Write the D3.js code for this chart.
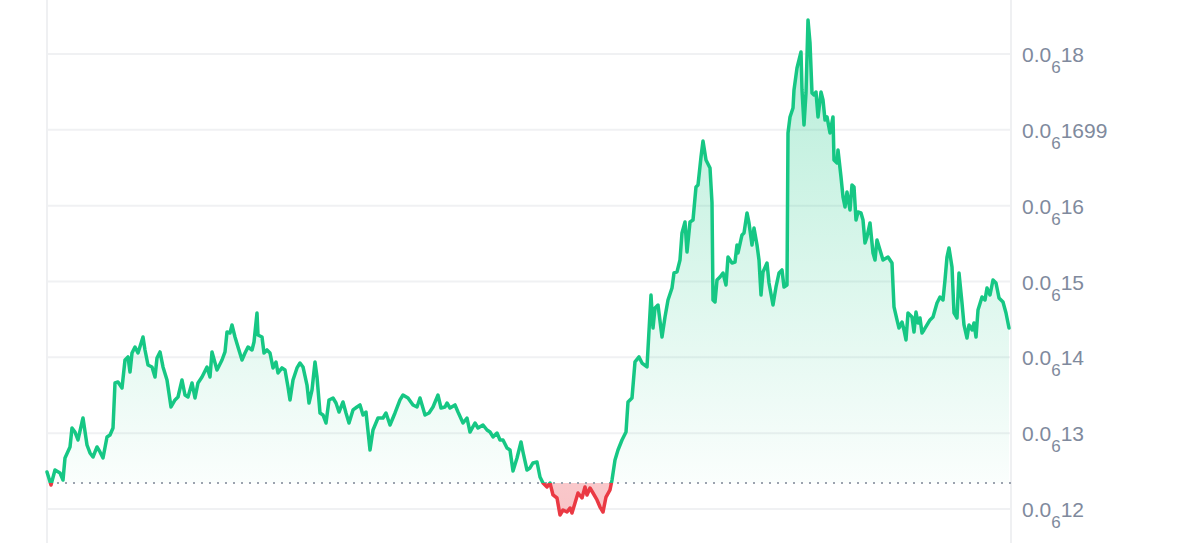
<!DOCTYPE html>
<html><head><meta charset="utf-8">
<script src="https://cdn.jsdelivr.net/npm/d3@7"></script>
<style>html,body{margin:0;padding:0;background:#fff;overflow:hidden}</style>
</head><body><svg id="c" width="1200" height="543"></svg>
<script>
// time in minutes over the day
const minutes = [0,6,12,19.5,24,27,34.5,37.5,42,46.5,52.5,54,60,64.5,69,75,79.5,84,90,94.5,99,102,106.5,112.5,117,121.5,124.5,127.5,132,136.5,144,147,151.5,157.5,162,165,169.5,174,180,186,192,196.5,202.5,207,211.5,217.5,222,226.5,232.5,240,244.5,247.5,255,262.5,267,270,274.5,277.5,282,286.5,292.5,297,301.5,307.5,310.5,315,316.5,322.5,325.5,330,334.5,339,343.5,346.5,352.5,357,361.5,364.5,369,375,379.5,384,390,393,397.5,402,405,409.5,414,418.5,423,429,433.5,438,444,448.5,453,459,465,469.5,474,478.5,484.5,489,496.5,504,508.5,514.5,522,529.5,534,541.5,549,555,559.5,567,573,579,586.5,591,597,600,604.5,612,616.5,624,630,634.5,642,646.5,654,660,664.5,669,675,679.5,684,690,694.5,699,705,711,714,720,724.5,729,735,739.5,744,750,754.5,759,765,769.5,774,780,784.5,787.5,792,796.5,802.5,807,810,814.5,819,825,829.5,834,838.5,844.5,847.5,852,856.5,862.5,868.5,871.5,877.5,882,888,892.5,900,906,909,912,916.5,922.5,927,931.5,937.5,940.5,945,949.5,952.5,957,960,964.5,969,973.5,976.5,981,984,988.5,994.5,997.5,999,1002,1005,1009.5,1014,1018.5,1021.5,1027.5,1032,1035,1036.5,1042.5,1045.5,1050,1053,1057.5,1060.5,1065,1068,1071,1074,1080,1083,1089,1093.5,1098,1102.5,1105.5,1110,1111.5,1114.5,1119,1120.5,1125,1128,1131,1132.5,1135.5,1138.5,1141.5,1144.5,1147.5,1150.5,1153.5,1156.5,1161,1164,1167,1170,1174.5,1179,1180.5,1185,1186.5,1191,1194,1197,1200,1204.5,1207.5,1210.5,1213.5,1216.5,1221,1224,1227,1230,1234.5,1239,1242,1245,1249.5,1254,1261.5,1267.5,1270.5,1275,1278,1282.5,1285.5,1288.5,1291.5,1297.5,1300.5,1303.5,1306.5,1309.5,1312.5,1315.5,1320,1324.5,1329,1335,1339.5,1344,1347,1350,1353,1357.5,1360.5,1365,1368,1372.5,1375.5,1380,1383,1387.5,1390.5,1393.5,1396.5,1402.5,1407,1410,1414.5,1419,1423.5,1428,1434,1438.5,1443];
// price in units of 1e-8 (i.e. 12.34 -> 0.0₆1234)
const prices = [12.488,12.317,12.514,12.475,12.382,12.673,12.818,13.068,13.015,12.910,13.147,13.200,12.844,12.739,12.686,12.818,12.752,12.673,12.950,12.976,13.068,13.662,13.675,13.596,13.965,14.005,13.807,14.057,14.136,14.057,14.268,14.097,13.899,13.873,13.741,13.991,14.071,13.873,13.701,13.345,13.438,13.477,13.701,13.503,13.477,13.662,13.464,13.662,13.741,13.873,13.741,14.071,13.833,13.965,14.071,14.334,14.321,14.427,14.268,14.136,13.965,14.057,14.136,14.097,14.202,14.585,14.295,14.268,14.057,14.097,14.057,13.860,13.939,13.794,13.860,13.833,13.609,13.438,13.701,13.860,13.925,13.873,13.635,13.398,13.569,13.939,13.741,13.266,13.240,13.134,13.438,13.464,13.398,13.279,13.411,13.266,13.134,13.306,13.345,13.372,13.240,13.279,12.778,13.042,13.200,13.200,13.266,13.108,13.266,13.438,13.503,13.464,13.372,13.345,13.464,13.240,13.266,13.345,13.503,13.332,13.345,13.398,13.332,13.372,13.279,13.134,13.200,13.015,13.134,13.068,13.108,13.042,13.015,12.950,13.002,12.910,12.910,12.804,12.778,12.501,12.673,12.884,12.752,12.514,12.541,12.607,12.620,12.422,12.343,12.290,12.343,12.185,12.145,11.921,11.987,11.960,12.013,11.947,12.079,12.211,12.145,12.290,12.185,12.277,12.211,12.119,12.026,11.960,12.158,12.251,12.382,12.646,12.778,12.910,13.015,13.411,13.464,13.939,14.005,13.925,13.873,14.822,14.387,14.651,14.690,14.268,14.532,14.756,14.915,15.112,15.126,15.284,15.640,15.785,15.389,15.785,15.811,16.247,16.273,16.642,16.853,16.603,16.497,16.036,14.756,14.730,15.020,15.060,15.112,14.954,15.323,15.244,15.257,15.482,15.376,15.614,15.640,15.904,15.772,15.482,15.706,15.482,15.284,14.822,15.126,15.244,14.980,14.690,14.928,15.112,15.152,14.928,14.954,16.959,17.170,17.288,17.526,17.816,17.921,18.027,17.526,17.064,17.486,18.449,18.146,17.486,17.460,17.499,17.170,17.499,17.394,17.130,17.170,16.959,17.170,16.603,16.563,16.734,16.378,16.115,15.983,16.181,15.943,16.273,16.247,15.811,15.917,15.904,15.811,15.508,15.587,15.772,15.376,15.284,15.548,15.416,15.284,15.323,15.244,14.664,14.493,14.387,14.466,14.361,14.229,14.585,14.532,14.334,14.598,14.453,14.519,14.321,14.361,14.427,14.493,14.532,14.717,14.796,14.756,15.020,15.323,15.442,15.192,14.585,14.519,15.112,14.717,14.427,14.255,14.427,14.361,14.453,14.268,14.624,14.796,14.756,14.915,14.822,15.020,14.980,14.783,14.730,14.585,14.387];
const baselinePrice = 12.343;
const tickValues = [12, 13, 14, 15, 16, 17, 18];
const tickLabels = [["0.0","6","12"],["0.0","6","13"],["0.0","6","14"],["0.0","6","15"],["0.0","6","16"],["0.0","6","1699"],["0.0","6","18"]];

const W = 1200, H = 543;
const left = 47, right = 1011, lineEnd = 1009;
const green = "#16c784", red = "#ea3943";

const svg = d3.select("#c");
const x = d3.scaleLinear().domain(d3.extent(minutes)).range([left, lineEnd]);
const y = d3.scaleLinear().domain([12, 18]).range([509, 54]);
const data = minutes.map((t, i) => ({t, v: prices[i]}));
const by = y(baselinePrice);

const defs = svg.append("defs");
const g1 = defs.append("linearGradient").attr("id", "gUp").attr("gradientUnits", "userSpaceOnUse")
  .attr("x1", 0).attr("x2", 0).attr("y1", y(18.45)).attr("y2", by);
g1.append("stop").attr("offset", 0).attr("stop-color", green).attr("stop-opacity", 0.32);
g1.append("stop").attr("offset", 1).attr("stop-color", green).attr("stop-opacity", 0.02);
const g2 = defs.append("linearGradient").attr("id", "gDn").attr("gradientUnits", "userSpaceOnUse")
  .attr("x1", 0).attr("x2", 0).attr("y1", by).attr("y2", y(11.9));
g2.append("stop").attr("offset", 0).attr("stop-color", red).attr("stop-opacity", 0.28);
g2.append("stop").attr("offset", 1).attr("stop-color", red).attr("stop-opacity", 0.3);
defs.append("clipPath").attr("id", "cUp").append("rect").attr("x", 0).attr("y", 0).attr("width", W).attr("height", by);
defs.append("clipPath").attr("id", "cDn").append("rect").attr("x", 0).attr("y", by).attr("width", W).attr("height", H - by);

// gridlines
svg.append("g").selectAll("line").data(tickValues).join("line")
  .attr("x1", left).attr("x2", right).attr("y1", d => y(d)).attr("y2", d => y(d))
  .attr("stroke", "#f0f1f3").attr("stroke-width", 2);
// vertical frame lines
svg.append("g").selectAll("line").data([left, right]).join("line")
  .attr("x1", d => d).attr("x2", d => d).attr("y1", 0).attr("y2", H)
  .attr("stroke", "#eff0f2").attr("stroke-width", 2);

const area = d3.area().x(d => x(d.t)).y0(by).y1(d => y(d.v));
const line = d3.line().x(d => x(d.t)).y(d => y(d.v));

svg.append("path").datum(data).attr("d", area).attr("fill", "url(#gUp)").attr("clip-path", "url(#cUp)");
svg.append("path").datum(data).attr("d", area).attr("fill", "url(#gDn)").attr("clip-path", "url(#cDn)");

// baseline
svg.append("line").attr("x1", left + 2).attr("x2", right).attr("y1", by).attr("y2", by)
  .attr("stroke", "#9ca3af").attr("stroke-width", 2).attr("stroke-dasharray", "2,6");

svg.append("path").datum(data).attr("d", line).attr("fill", "none").attr("stroke", green)
  .attr("stroke-width", 3.5).attr("stroke-linejoin", "round").attr("stroke-linecap", "round").attr("clip-path", "url(#cUp)");
svg.append("path").datum(data).attr("d", line).attr("fill", "none").attr("stroke", red)
  .attr("stroke-width", 3.5).attr("stroke-linejoin", "round").attr("stroke-linecap", "round").attr("clip-path", "url(#cDn)");

// tick labels
const lbl = svg.append("g").attr("font-family", "'Liberation Sans', Arial, sans-serif").attr("fill", "#808a9d");
tickValues.forEach((v, i) => {
  const [a, s, b] = tickLabels[i];
  const t = lbl.append("text").attr("x", 1022).attr("y", y(v) + 8).attr("font-size", 21);
  t.append("tspan").text(a);
  t.append("tspan").attr("font-size", 17).attr("dy", 11).text(s);
  t.append("tspan").attr("dy", -11).text(b);
});
</script></body></html>
